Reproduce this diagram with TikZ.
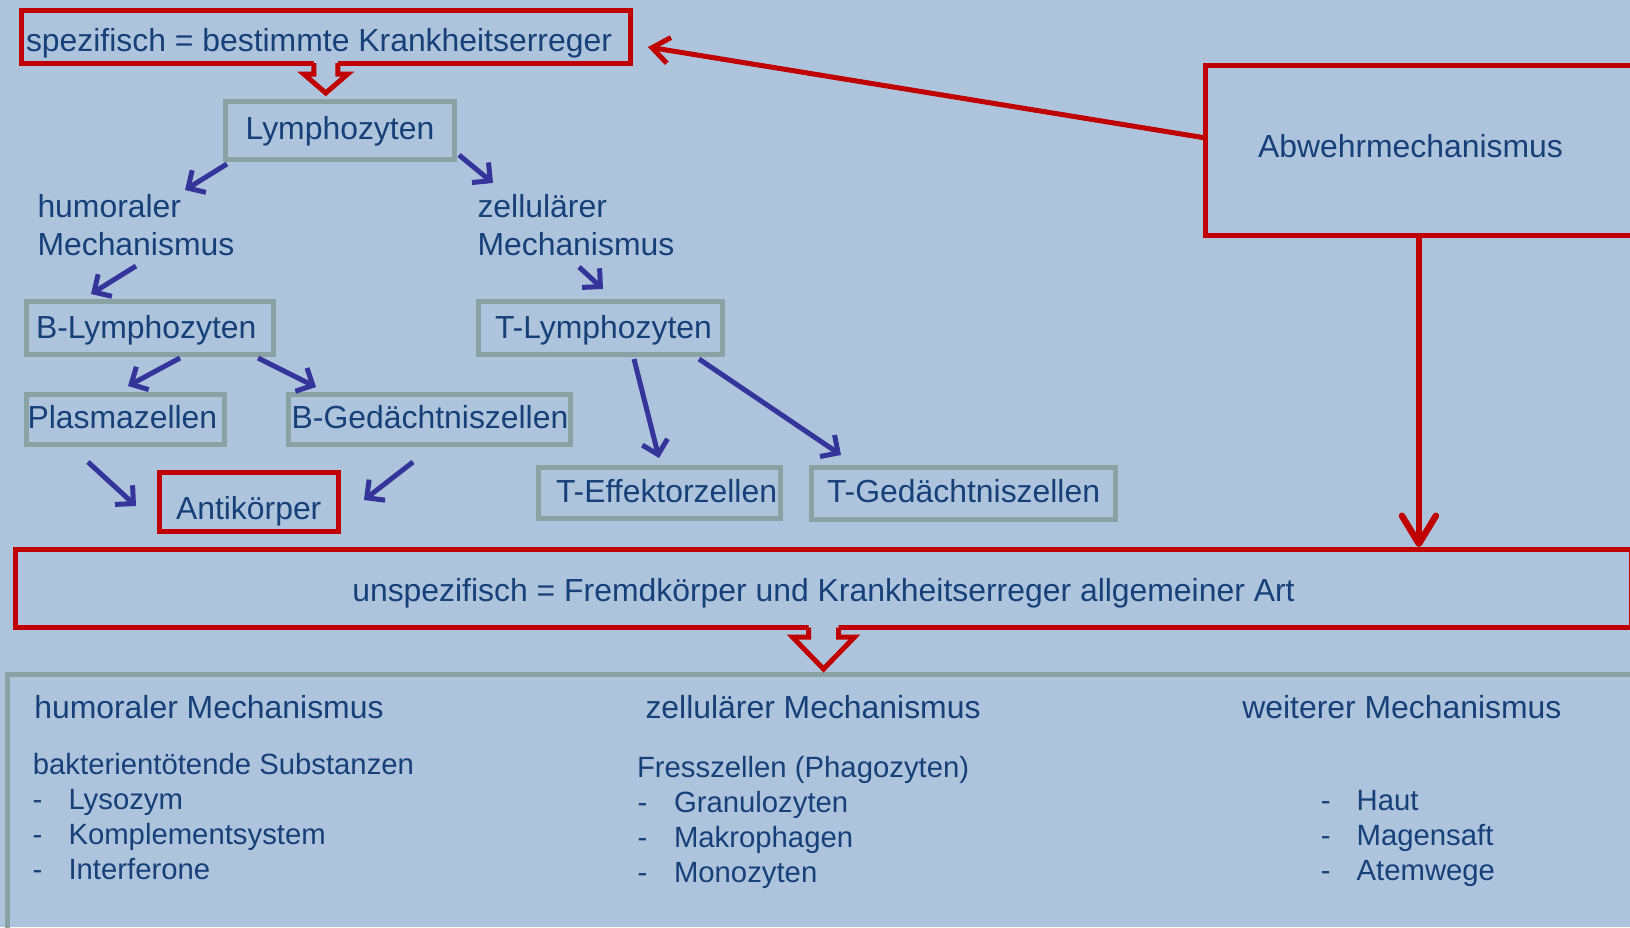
\documentclass[tikz,border=0pt]{standalone}
\usepackage{fontspec}
\setmainfont{Liberation Sans}
\usetikzlibrary{arrows.meta}
\definecolor{bgc}{RGB}{174,196,220}
\definecolor{dred}{RGB}{192,0,0}
\definecolor{gborder}{RGB}{139,162,164}
\definecolor{tblue}{RGB}{22,64,122}
\definecolor{ablue}{RGB}{52,52,154}
\begin{document}
\begin{tikzpicture}[x=1pt,y=-1pt,
  txt/.style={text=tblue, font=\fontsize{31.9pt}{38pt}\selectfont, inner sep=0pt, outer sep=0pt, anchor=base west},
  stxt/.style={txt, font=\fontsize{29.3pt}{35pt}\selectfont},
  gbox/.style={draw=gborder, line width=5pt, inner sep=0pt, rectangle},
  rbox/.style={draw=dred, line width=5pt, inner sep=0pt, rectangle},
  barrow/.style={draw=ablue, line width=5pt, -{Straight Barb[length=13pt,width=26pt]}},
  rarrow/.style={draw=dred, line width=5pt, -{Straight Barb[length=17pt,width=26pt]}},
  rvarrow/.style={draw=dred, line width=6.5pt, -{Straight Barb[length=28pt,width=34pt,round]}},
  blockarrow/.style={draw=dred, line width=5pt, line join=miter},
]
\useasboundingbox (0,0) rectangle (1630,927);
\fill[bgc] (0,0) rectangle (1630,927);
\clip (0,0) rectangle (1630,927);

% boxes
\node[gbox, minimum width=1632.5pt, minimum height=265.3pt] (bottom) at (823.75,807.35) {};
\node[rbox, minimum width=608.5pt, minimum height=53pt] (spez) at (325.75,36.5) {};
\node[gbox, minimum width=229pt, minimum height=57.5pt] (lym) at (340,130.25) {};
\node[gbox, minimum width=247.6pt, minimum height=53.2pt] (blym) at (149.8,328.1) {};
\node[gbox, minimum width=243.5pt, minimum height=52.5pt] (tlym) at (600.25,327.75) {};
\node[gbox, minimum width=198.7pt, minimum height=50pt] (plasma) at (125.35,419) {};
\node[gbox, minimum width=282pt, minimum height=50pt] (bged) at (429,419) {};
\node[rbox, minimum width=178.7pt, minimum height=59pt] (anti) at (249.15,502) {};
\node[gbox, minimum width=242.4pt, minimum height=50.8pt] (teff) at (659.4,492.9) {};
\node[gbox, minimum width=304pt, minimum height=51.5pt] (tged) at (963,493.25) {};
\node[rbox, minimum width=426.2pt, minimum height=170pt] (abwehr) at (1418.9,150) {};
\node[rbox, minimum width=1616pt, minimum height=78pt] (unspez) at (823.5,588.5) {};

% block arrows
\fill[bgc] (313.75,59) -- (313.75,74) -- (303.75,74) -- (325.75,93) -- (347.75,74) -- (337.75,74) -- (337.75,59) -- cycle;
\draw[blockarrow] (313.75,63) -- (313.75,74) -- (303.75,74) -- (325.75,93) -- (347.75,74) -- (337.75,74) -- (337.75,63);
\fill[bgc] (808.5,623.5) -- (808.5,637) -- (792.5,637) -- (823.5,669) -- (854.5,637) -- (838.5,637) -- (838.5,623.5) -- cycle;
\draw[blockarrow] (808.5,627.5) -- (808.5,637) -- (792.5,637) -- (823.5,669) -- (854.5,637) -- (838.5,637) -- (838.5,627.5);

% texts upper
\node[txt] (spezT) at (26,51) {spezifisch = bestimmte Krankheitserreger};
\node[txt, anchor=base] (lymT) at (340,139) {Lymphozyten};
\node[txt] (humT1) at (37.5,217.5) {humoraler};
\node[txt] (humT2) at (37.5,255.5) {Mechanismus};
\node[txt] (zelT1) at (477.5,217.5) {zellulärer};
\node[txt] (zelT2) at (477.5,255.5) {Mechanismus};
\node[txt] (blymT) at (36,338.5) {B-Lymphozyten};
\node[txt] (tlymT) at (495,338.5) {T-Lymphozyten};
\node[txt] (plasmaT) at (27.5,428) {Plasmazellen};
\node[txt] (bgedT) at (291.7,428) {B-Gedächtniszellen};
\node[txt] (antiT) at (176,519.3) {Antikörper};
\node[txt] (teffT) at (556,502.7) {T-Effektorzellen};
\node[txt] (tgedT) at (827,502.7) {T-Gedächtniszellen};
\node[txt] (abwehrT) at (1258,157) {Abwehrmechanismus};
\node[txt, anchor=base] (unspezT) at (823.5,601.7) {unspezifisch = Fremdkörper und Krankheitserreger allgemeiner Art};

% texts lower
\node[txt] (h1) at (34.3,718.7) {humoraler Mechanismus};
\node[stxt] (h2) at (32.9,774) {bakterientötende Substanzen};
\node[stxt] (h3d) at (32.5,809) {-};
\node[stxt] (h3) at (68.5,809) {Lysozym};
\node[stxt] (h4d) at (32.5,844) {-};
\node[stxt] (h4) at (68.5,844) {Komplementsystem};
\node[stxt] (h5d) at (32.5,879) {-};
\node[stxt] (h5) at (68.5,879) {Interferone};

\node[txt] (z1) at (645.5,718.7) {zellulärer Mechanismus};
\node[stxt] (z2) at (637,777) {Fresszellen (Phagozyten)};
\node[stxt] (z3d) at (637.5,812) {-};
\node[stxt] (z3) at (674,812) {Granulozyten};
\node[stxt] (z4d) at (637.5,847) {-};
\node[stxt] (z4) at (674,847) {Makrophagen};
\node[stxt] (z5d) at (637.5,882) {-};
\node[stxt] (z5) at (674,882) {Monozyten};

\node[txt] (w1) at (1242.3,718.7) {weiterer Mechanismus};
\node[stxt] (w3d) at (1320.8,810.3) {-};
\node[stxt] (w3) at (1356.6,810.3) {Haut};
\node[stxt] (w4d) at (1320.8,845.3) {-};
\node[stxt] (w4) at (1356.6,845.3) {Magensaft};
\node[stxt] (w5d) at (1320.8,880.3) {-};
\node[stxt] (w5) at (1356.6,880.3) {Atemwege};

% blue arrows
\coordinate (a1s) at (227,164);  \coordinate (a1e) at (185,190);
\coordinate (a2s) at (459,155);  \coordinate (a2e) at (493,183);
\coordinate (a3s) at (136,266);  \coordinate (a3e) at (91,294);
\coordinate (a4s) at (579,267);  \coordinate (a4e) at (603,289);
\coordinate (a5s) at (180,358);  \coordinate (a5e) at (128,386);
\coordinate (a6s) at (258,358);  \coordinate (a6e) at (316,387);
\coordinate (a7s) at (88,462);   \coordinate (a7e) at (136,506);
\coordinate (a8s) at (413,462);  \coordinate (a8e) at (364,500);
\coordinate (a9s) at (634,359);  \coordinate (a9e) at (659,458);
\coordinate (a10s) at (699,359); \coordinate (a10e) at (841,455);
\foreach \i in {1,...,10} {\draw[barrow] (a\i s) -- (a\i e);}

% red arrows
\coordinate (abwin) at (1205.8,138);
\coordinate (speztip) at (648,47);
\draw[rarrow] (abwin) -- (speztip);
\draw[rvarrow] (abwehr.south) -- (abwehr.south |- unspez.north);
\end{tikzpicture}
\end{document}
